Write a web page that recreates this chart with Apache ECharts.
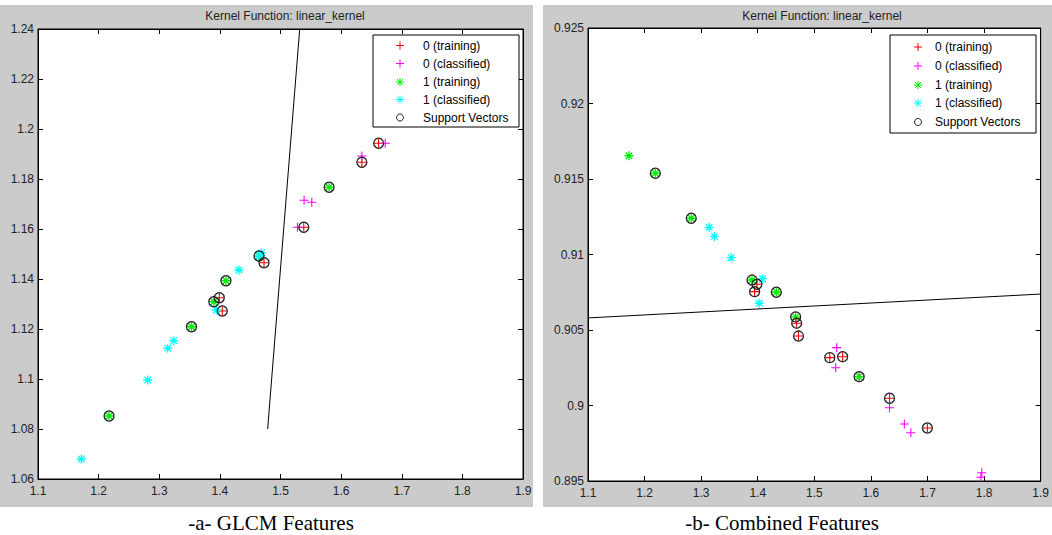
<!DOCTYPE html>
<html>
<head>
<meta charset="utf-8">
<script src="https://cdn.jsdelivr.net/npm/echarts@6/dist/echarts.min.js"></script>
<style>
html,body{margin:0;padding:0;background:#fff;}
#chart{width:1052px;height:535px;}
</style>
</head>
<body>
<div id="chart"></div>
<script>
// ---------- DATA ----------
const titleText = 'Kernel Function: linear_kernel';
const captions = ['-a- GLCM Features', '-b- Combined Features'];
const legendNames = ['0 (training)', '0 (classified)', '1 (training)', '1 (classified)', 'Support Vectors'];

// Panel a (GLCM features)
const aXTicks = [1.1, 1.9, 0.1];
const aYTicks = [1.06, 1.24, 0.02];
const aTraining0 = [[1.6618,1.1943],[1.6342,1.1867],[1.5384,1.1607],[1.4728,1.1465],[1.399,1.1325],[1.404,1.1272]];
const aClassified0 = [[1.6727,1.1943],[1.6342,1.1892],[1.5389,1.1715],[1.5516,1.1707],[1.528,1.1607]];
const aTraining1 = [[1.5802,1.1767],[1.41,1.1393],[1.390,1.1309],[1.3532,1.1209],[1.2172,1.0852],[1.4645,1.1492]];
const aClassified1 = [[1.469,1.1505],[1.4645,1.1492],[1.4314,1.1436],[1.394,1.1276],[1.324,1.1153],[1.314,1.1123],[1.281,1.0996],[1.1714,1.068]];
const aSupport = [[1.6618,1.1943],[1.6342,1.1867],[1.5384,1.1607],[1.4728,1.1465],[1.399,1.1325],[1.404,1.1272],
                  [1.5802,1.1767],[1.41,1.1393],[1.390,1.1309],[1.3532,1.1209],[1.2172,1.0852],[1.4645,1.1492]];
const aBoundary = [[1.4788,1.08],[1.5317,1.24]];

// Panel b (Combined features)
const bXTicks = [1.1, 1.9, 0.1];
const bYTicks = [0.895, 0.925, 0.005];
const bTraining0 = [[1.3986,0.90803],[1.3945,0.90754],[1.4688,0.90545],[1.472,0.9046],[1.5273,0.90317],[1.55,0.90323],[1.6329,0.90048],[1.6998,0.89851]];
const bClassified0 = [[1.5395,0.90383],[1.5378,0.9025],[1.5792,0.90191],[1.6329,0.89985],[1.6591,0.89877],[1.6706,0.8982],[1.796,0.89555],[1.7943,0.89525]];
const bTraining1 = [[1.1724,0.91654],[1.219,0.91538],[1.2825,0.9124],[1.3899,0.90831],[1.4329,0.9075],[1.467,0.90587],[1.5792,0.90191]];
const bClassified1 = [[1.314,0.9118],[1.3234,0.9112],[1.3531,0.90979],[1.4084,0.9084],[1.4026,0.90677]];
const bSupport = [[1.3986,0.90803],[1.3945,0.90754],[1.4688,0.90545],[1.472,0.9046],[1.5273,0.90317],[1.55,0.90323],[1.6329,0.90048],[1.6998,0.89851],
                  [1.219,0.91538],[1.2825,0.9124],[1.3899,0.90831],[1.4329,0.9075],[1.467,0.90587],[1.5792,0.90191]];
const bBoundary = [[1.1,0.9058],[1.9,0.90738]];

// ---------- STYLE ----------
const colors = ['#ff0000', '#ff00ff', '#00ee00', '#00ffff', '#222222'];
const PLUS = 'path://M0,-4L0,4M-4,0L4,0';
const STAR = 'path://M0,-4L0,4M-4,0L4,0M-2.9,-2.9L2.9,2.9M-2.9,2.9L2.9,-2.9';
const symbols = [PLUS, PLUS, STAR, STAR, 'circle'];
const sizes = [9, 9, 9, 9, 10];
const widths = [1.1, 1.1, 1.3, 1.3, 1.3];
const font = 'Liberation Sans, Arial, sans-serif';

const grids = [
  {left: 38, top: 29, width: 485, height: 450},
  {left: 588, top: 28, width: 458, height: 453}
];

function mkX(idx, t, pos, labels) {
  return {type:'value', gridIndex: idx, position: pos, min: t[0], max: t[1], interval: t[2],
    axisLine:{show:true, lineStyle:{color:'#000', width:1}},
    axisTick:{show:true, inside:true, length:5, lineStyle:{color:'#000'}},
    axisLabel:{show: labels, color:'#222', fontFamily: font, fontSize: 12, margin: 6},
    splitLine:{show:false}};
}
function mkY(idx, t, pos, labels) {
  return {type:'value', gridIndex: idx, position: pos, min: t[0], max: t[1], interval: t[2],
    axisLine:{show:true, lineStyle:{color:'#000', width:1}},
    axisTick:{show:true, inside:true, length:5, lineStyle:{color:'#000'}},
    axisLabel:{show: labels, color:'#222', fontFamily: font, fontSize: 12, margin: 4},
    splitLine:{show:false}};
}

const panels = [
  {x: aXTicks, y: aYTicks, sets: [aTraining0, aClassified0, aTraining1, aClassified1, aSupport], line: aBoundary},
  {x: bXTicks, y: bYTicks, sets: [bTraining0, bClassified0, bTraining1, bClassified1, bSupport], line: bBoundary}
];

const xAxes = [], yAxes = [], series = [];
panels.forEach((p, g) => {
  xAxes.push(mkX(g, p.x, 'bottom', true));
  xAxes.push(mkX(g, p.x, 'top', false));
  yAxes.push(mkY(g, p.y, 'left', true));
  yAxes.push(mkY(g, p.y, 'right', false));
  const xi = g * 2, yi = g * 2;
  series.push({type:'line', xAxisIndex: xi, yAxisIndex: yi, data: p.line, symbol:'none',
    lineStyle:{color:'#000', width:1}, silent:true, animation:false, z: 1});
  p.sets.forEach((d, k) => {
    series.push({type:'scatter', name: legendNames[k], xAxisIndex: xi, yAxisIndex: yi, data: d,
      symbol: symbols[k], symbolSize: sizes[k], symbolKeepAspect: true,
      itemStyle:{color:'none', borderColor: colors[k], borderWidth: widths[k], opacity: 1},
      emphasis:{disabled:true}, silent:true, animation:false, z: 2 + k});
  });
});

// legend drawn as graphic (box, icons, real text)
function legendGraphic(box, rows, iconX, textX) {
  const els = [{type:'rect', shape:{x: box[0], y: box[1], width: box[2], height: box[3]},
    style:{fill:'#fff', stroke:'#000', lineWidth:1}, z: 100}];
  legendNames.forEach((n, k) => {
    const cy = rows[k];
    const st = {stroke: colors[k], lineWidth: 1, fill: 'none'};
    if (k < 4) {
      els.push({type:'line', shape:{x1: iconX-4, y1: cy, x2: iconX+4, y2: cy}, style: st, z: 101});
      els.push({type:'line', shape:{x1: iconX, y1: cy-4, x2: iconX, y2: cy+4}, style: st, z: 101});
      if (k >= 2) {
        els.push({type:'line', shape:{x1: iconX-3, y1: cy-3, x2: iconX+3, y2: cy+3}, style: st, z: 101});
        els.push({type:'line', shape:{x1: iconX-3, y1: cy+3, x2: iconX+3, y2: cy-3}, style: st, z: 101});
      }
    } else {
      els.push({type:'circle', shape:{cx: iconX, cy: cy, r: 3.5}, style: st, z: 101});
    }
    els.push({type:'text', x: textX, y: cy, style:{text: n, fill:'#000', font: '12px ' + font,
      textVerticalAlign:'middle', verticalAlign:'middle'}, z: 101});
  });
  return els;
}

const graphic = [
  {type:'rect', shape:{x:0, y:5, width:533, height:502}, style:{fill:'#cbcbcb'}, z:-100},
  {type:'rect', shape:{x:543, y:5, width:509, height:502}, style:{fill:'#cbcbcb'}, z:-100}
].concat(legendGraphic([373, 35, 146, 92], [45.5, 63.5, 82, 99.5, 117.5], 400, 423))
 .concat(legendGraphic([890, 35, 146, 98], [47, 66, 85, 103, 122], 918, 935));

const option = {
  backgroundColor: '#fff',
  animation: false,
  title: [
    {text: titleText, left: 280, top: 5, textAlign: 'center',
      textStyle:{fontFamily: font, fontSize: 12, fontWeight:'normal', color:'#222'}},
    {text: titleText, left: 817, top: 5, textAlign: 'center',
      textStyle:{fontFamily: font, fontSize: 12, fontWeight:'normal', color:'#222'}},
    {text: captions[0], left: 266, top: 507, textAlign: 'center',
      textStyle:{fontFamily: 'Liberation Serif, Times New Roman, serif', fontSize: 21, fontWeight:'normal', color:'#000'}},
    {text: captions[1], left: 777, top: 507, textAlign: 'center',
      textStyle:{fontFamily: 'Liberation Serif, Times New Roman, serif', fontSize: 21, fontWeight:'normal', color:'#000'}}
  ],
  grid: grids.map(g => Object.assign({show:true, backgroundColor:'#fff', borderColor:'#000', borderWidth:1, containLabel:false}, g)),
  xAxis: xAxes,
  yAxis: yAxes,
  series: series,
  graphic: graphic
};

const chart = echarts.init(document.getElementById('chart'), null, {renderer:'svg'});
chart.setOption(option);
</script>
</body>
</html>
